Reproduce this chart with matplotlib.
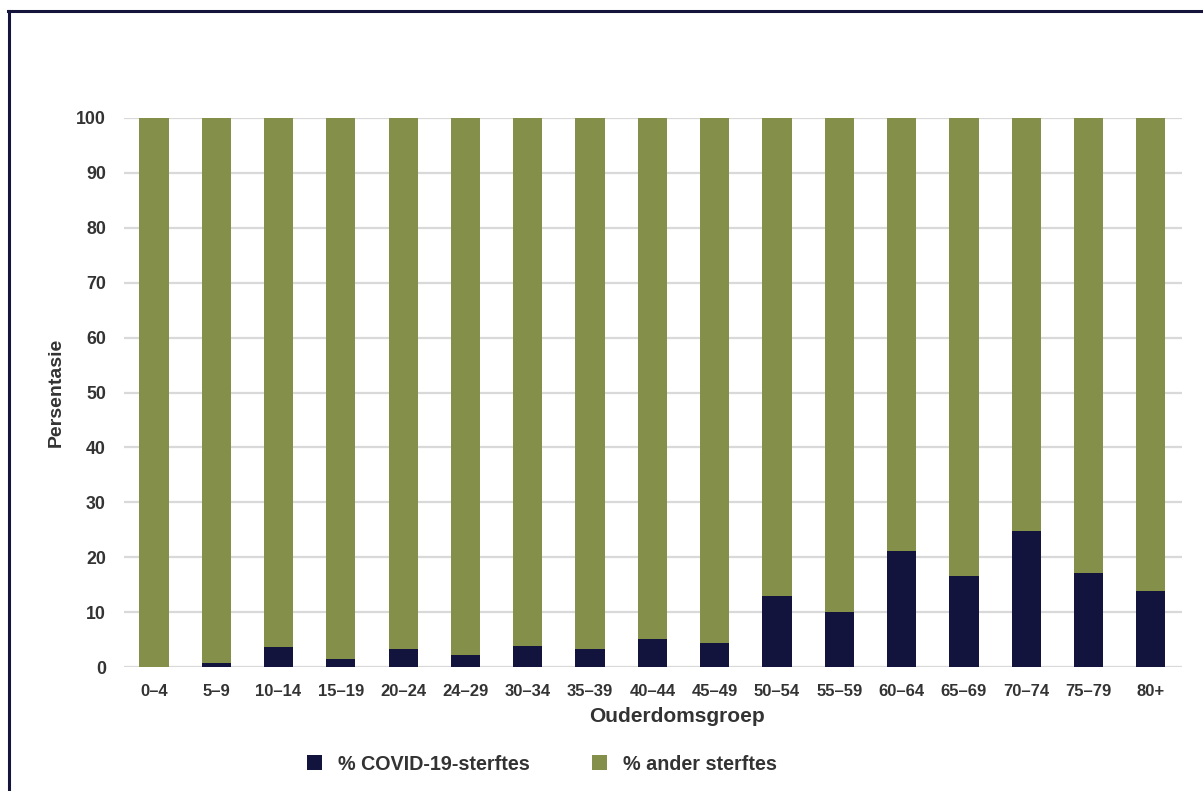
import matplotlib
matplotlib.use("Agg")
import matplotlib.pyplot as plt
from matplotlib.patches import Patch
from matplotlib.lines import Line2D
import numpy as np

plt.rcParams['font.family'] = ['Liberation Sans', 'DejaVu Sans']

categories = ["0–4", "5–9", "10–14", "15–19", "20–24", "24–29", "30–34", "35–39",
              "40–44", "45–49", "50–54", "55–59", "60–64", "65–69", "70–74", "75–79", "80+"]
covid_pct = [0.0, 0.8, 3.6, 1.4, 3.3, 2.1, 3.9, 3.3, 5.1, 4.3, 13.0, 10.0, 21.2, 16.5, 24.8, 17.2, 13.8]
other_pct = [100 - v for v in covid_pct]

navy = "#12143E"
green = "#84904A"
txt = "#333333"

W, H = 1203, 791
fig = plt.figure(figsize=(W / 100, H / 100), dpi=100)
ax = fig.add_axes([124 / W, 1 - 667 / H, (1182 - 124) / W, (667 - 118) / H])

x = np.arange(len(categories))
ax.bar(x, covid_pct, width=0.47, color=navy, zorder=3)
ax.bar(x, other_pct, width=0.47, bottom=covid_pct, color=green, zorder=3)

ax.set_xlim(-0.48, len(categories) - 0.5)
ax.set_ylim(0, 100)
ax.yaxis.grid(True, color="#D9D9D9", linewidth=1.6, zorder=0)
ax.set_axisbelow(True)
for s in ax.spines.values():
    s.set_visible(False)
ax.tick_params(axis='both', length=0, colors=txt)
ax.set_xticks(x)
ax.set_xticklabels(categories, fontweight='bold', fontsize=12)
ax.set_yticks(range(0, 101, 10))
ax.set_yticklabels([str(v) for v in range(0, 101, 10)], fontweight='bold', fontsize=12.8)
ax.tick_params(axis='y', pad=13)
ax.tick_params(axis='x', pad=12)

ax.set_ylabel("Persentasie", fontsize=14, fontweight='bold', color=txt, labelpad=8)
ax.set_xlabel("Ouderdomsgroep", fontsize=15, fontweight='bold', color=txt, labelpad=6)
ax.xaxis.set_label_coords((676.5 - 124) / (1182 - 124), -0.07)
ax.xaxis.label.set_verticalalignment('center')
ax.xaxis.set_label_coords((676.5 - 124) / (1182 - 124), -(717 - 667) / (667 - 118))

handles = [Patch(facecolor=navy, label="% COVID-19-sterftes"),
           Patch(facecolor=green, label="% ander sterftes")]
fig.legend(handles=handles, loc='center', bbox_to_anchor=(542 / W, 1 - 764 / H), ncol=2,
           frameon=False, prop={'size': 14.2, 'weight': 'bold'}, handlelength=0.75,
           handleheight=0.75, columnspacing=3.2, handletextpad=0.8, labelcolor=txt)

border = "#14143C"
fig.add_artist(Line2D([9 / W, 9 / W], [-0.01, 1 - 11 / H], transform=fig.transFigure,
                      color=border, linewidth=2.2))
fig.add_artist(Line2D([8 / W, 1.01], [1 - 11 / H, 1 - 11 / H], transform=fig.transFigure,
                      color=border, linewidth=2.2))

fig.savefig("out.png", dpi=100, facecolor="white")
